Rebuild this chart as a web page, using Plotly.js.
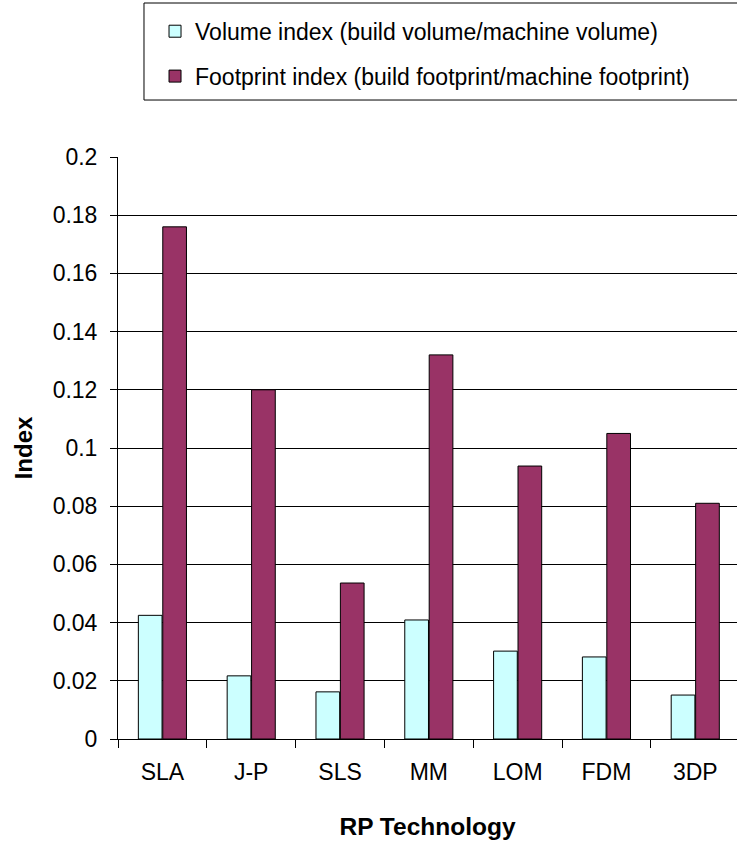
<!DOCTYPE html>
<html>
<head>
<meta charset="utf-8">
<script src="https://cdn.plot.ly/plotly-3.0.1.min.js"></script>
<style>html,body{margin:0;padding:0;background:#fff;}#chart{width:737px;height:841px;}</style>
</head>
<body>
<div id="chart"></div>
<script>
var categories = ["SLA", "J-P", "SLS", "MM", "LOM", "FDM", "3DP"];
var volumeIndex = [0.0425, 0.0217, 0.0162, 0.0409, 0.0302, 0.0282, 0.0151];
var footprintIndex = [0.176, 0.120, 0.0536, 0.132, 0.0938, 0.105, 0.081];
var seriesNames = ["Volume index (build volume/machine volume)", "Footprint index (build footprint/machine footprint)"];
var yTicks = [0, 0.02, 0.04, 0.06, 0.08, 0.1, 0.12, 0.14, 0.16, 0.18, 0.2];
var yTickText = ["0", "0.02", "0.04", "0.06", "0.08", "0.1", "0.12", "0.14", "0.16", "0.18", "0.2"];

var FONT = "'Liberation Sans', Arial, sans-serif";
var traces = [
  {type: "bar", x: categories, y: volumeIndex, name: seriesNames[0], legendgroup: "a",
   marker: {color: "#CCFFFF", line: {color: "#000", width: 1}}},
  {type: "bar", x: categories, y: footprintIndex, name: seriesNames[1], legendgroup: "b",
   marker: {color: "#993366", line: {color: "#000", width: 1}}}
];
var layout = {
  width: 737, height: 841,
  margin: {l: 118, r: 0, t: 157, b: 102, pad: 0},
  paper_bgcolor: "#fff", plot_bgcolor: "#fff",
  font: {family: FONT, color: "#000", size: 23},
  barmode: "group", bargap: 0.45, bargroupgap: 0.03,
  showlegend: true,
  legend: {x: 0.0598, y: 1.253, xanchor: "left", yanchor: "top",
    borderwidth: 0, bgcolor: "rgba(0,0,0,0)",
    font: {family: FONT, size: 23, color: "#000"},
    traceorder: "grouped", tracegroupgap: 12},
  shapes: [
    {type: "rect", xref: "paper", yref: "paper", x0: 0.0420, x1: 1.002, y0: 1.0979, y1: 1.2646,
     line: {color: "#000", width: 1}, fillcolor: "rgba(0,0,0,0)", layer: "above"}
  ],
  xaxis: {type: "category", range: [-0.5, 6.47], showgrid: false,
    showline: true, linecolor: "#000", linewidth: 1,
    ticks: "outside", tickson: "boundaries", ticklen: 8, tickcolor: "#000",
    ticklabelstandoff: 12,
    tickfont: {family: FONT, size: 23, color: "#000"},
    title: {text: "<b>RP Technology</b>", font: {family: FONT, size: 24.5, color: "#000"}, standoff: 34},
    fixedrange: true},
  yaxis: {range: [0, 0.2], tickvals: yTicks, ticktext: yTickText,
    showgrid: true, gridcolor: "#000", gridwidth: 1,
    showline: true, linecolor: "#000", linewidth: 1,
    ticks: "outside", ticklen: 7, tickcolor: "#000",
    ticklabelstandoff: 8,
    tickfont: {family: FONT, size: 23, color: "#000"},
    title: {text: "<b>Index</b>", font: {family: FONT, size: 24, color: "#000"}, standoff: 13},
    zeroline: false, fixedrange: true}
};
Plotly.newPlot("chart", traces, layout, {displayModeBar: false, staticPlot: true});
</script>
</body>
</html>
